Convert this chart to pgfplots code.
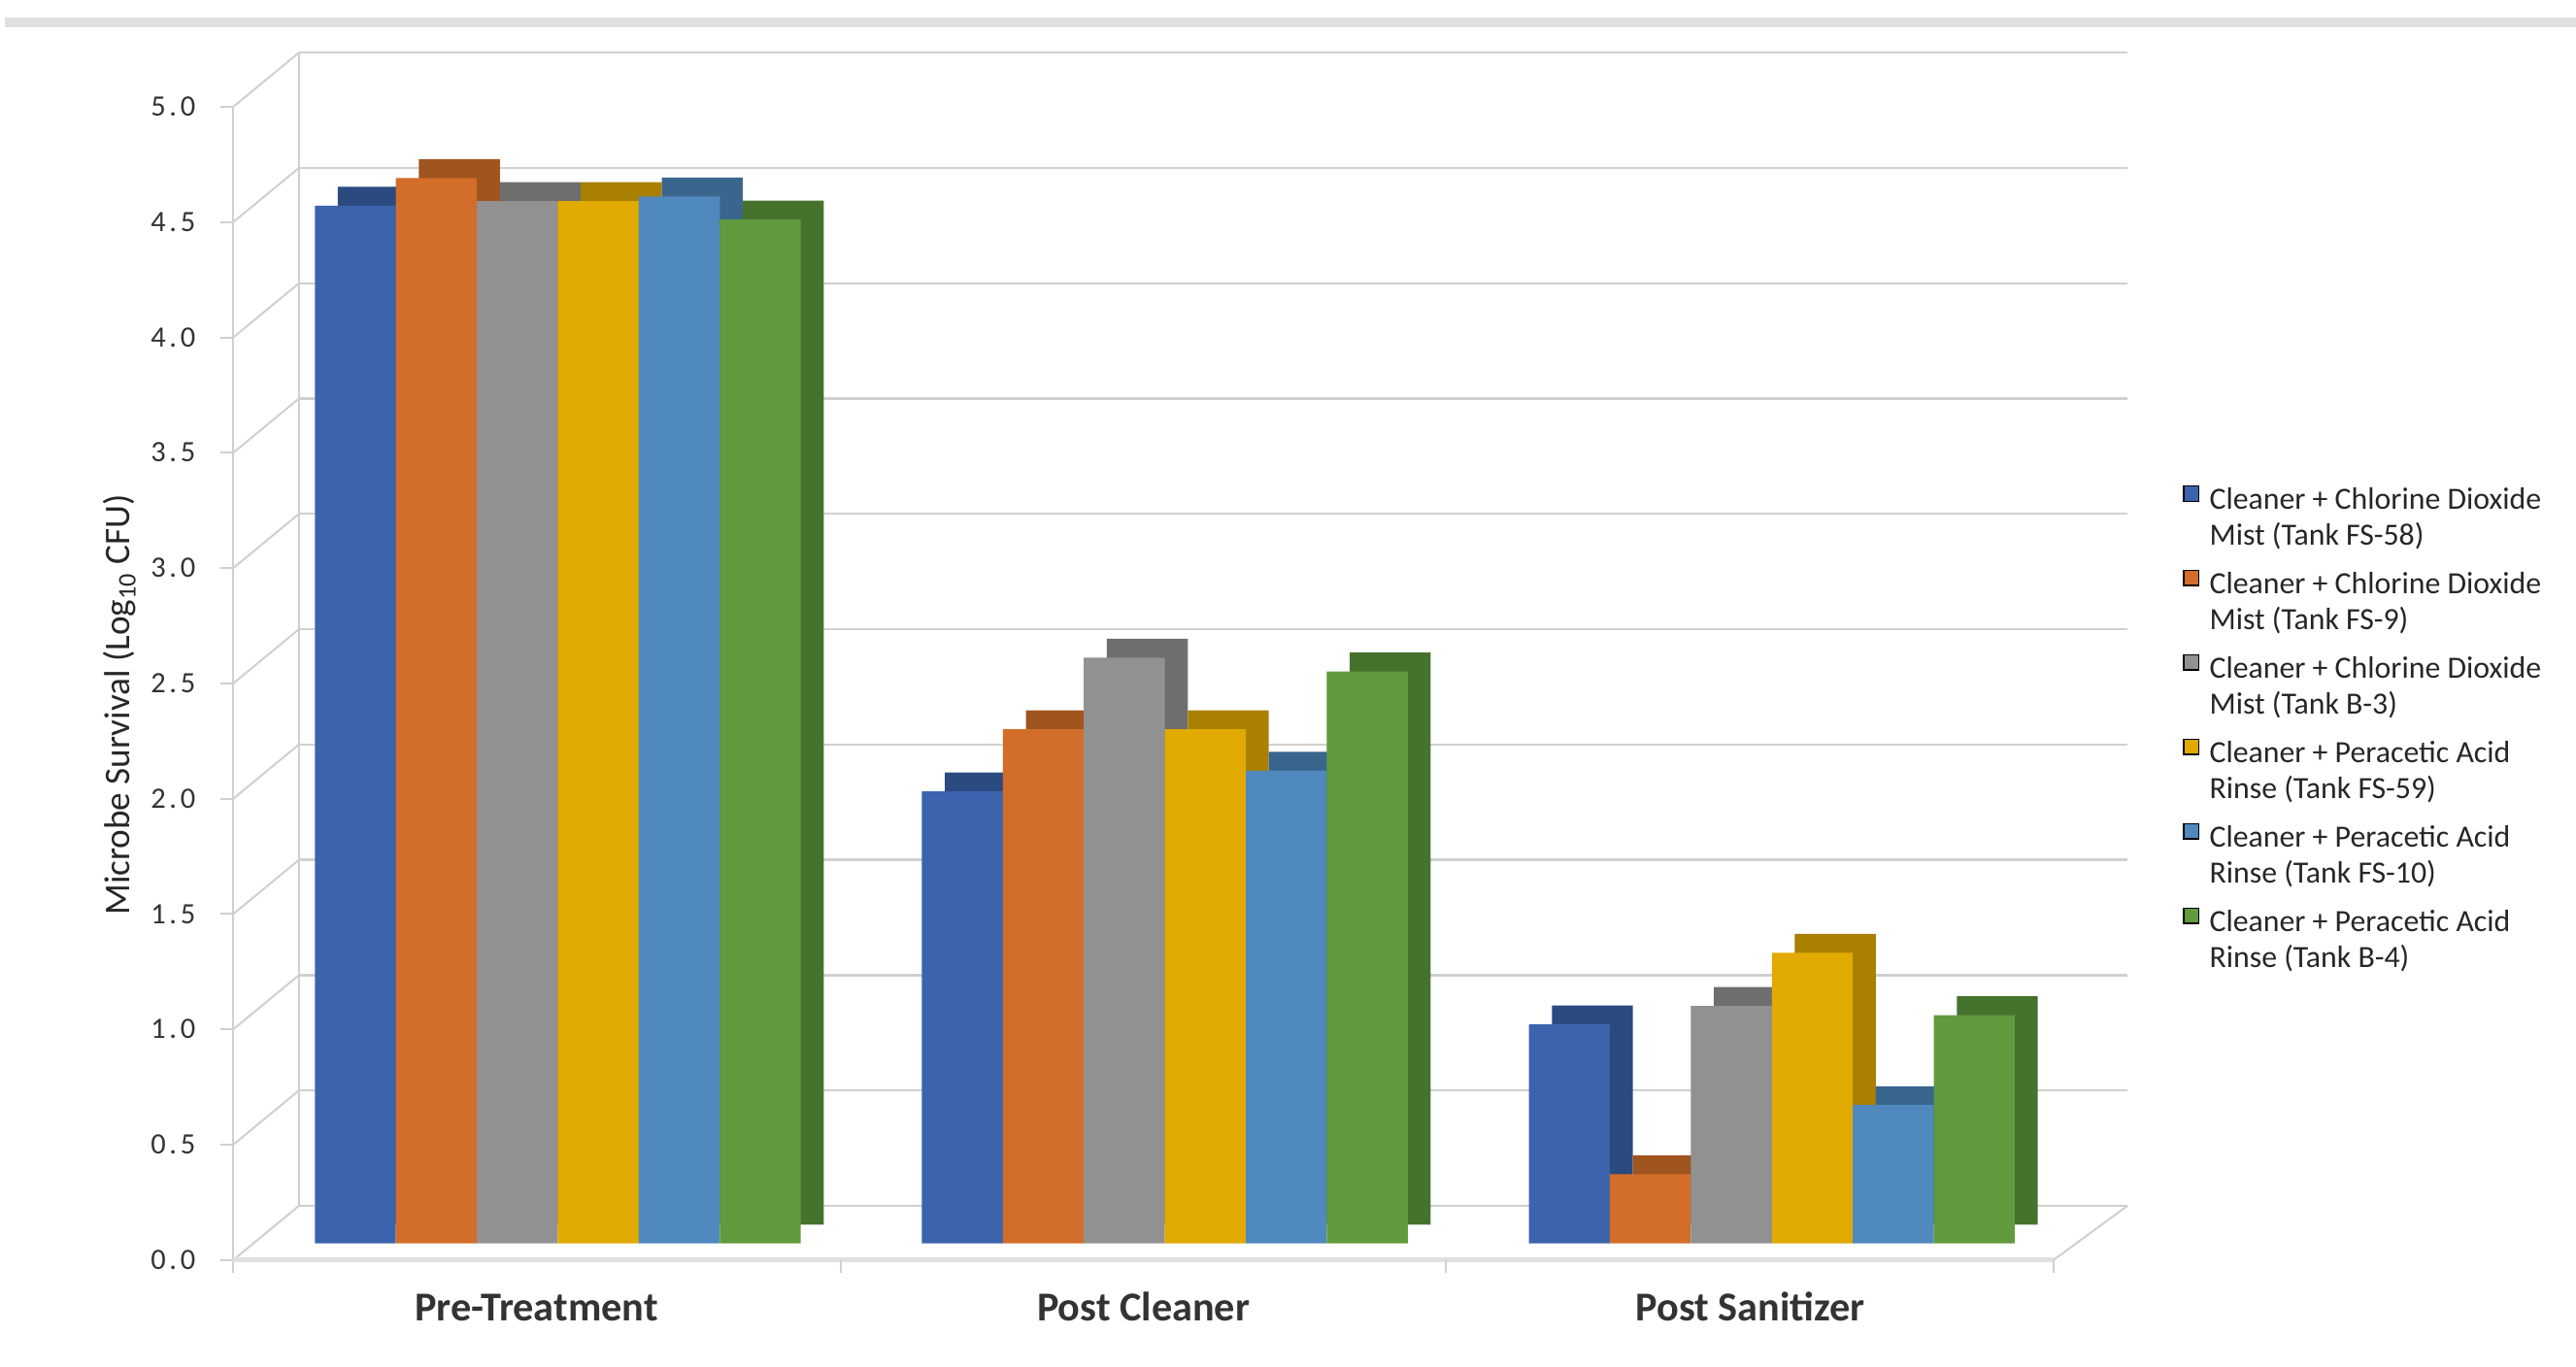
\documentclass[border=0pt]{standalone}
\usepackage{pgfplots}
\pgfplotsset{compat=1.18}
\usepackage{fontspec}
\setmainfont{Carlito}
\newfontfamily\tickfont[LetterSpace=12]{Carlito}
\definecolor{cA}{HTML}{3B64AD}\definecolor{cAd}{HTML}{2A4A80}
\definecolor{cB}{HTML}{D26D2A}\definecolor{cBd}{HTML}{A0541E}
\definecolor{cC}{HTML}{919191}\definecolor{cCd}{HTML}{6E6E6E}
\definecolor{cD}{HTML}{E0AA00}\definecolor{cDd}{HTML}{A98000}
\definecolor{cE}{HTML}{4F89BD}\definecolor{cEd}{HTML}{3A668E}
\definecolor{cF}{HTML}{629A3E}\definecolor{cFd}{HTML}{45722D}
\definecolor{gridc}{HTML}{D0D0D0}
\definecolor{bandc}{HTML}{E0E0E0}
\pgfplotsset{
  sq/.style={legend image code/.code={\fill[##1] (0pt,-0.6pt) rectangle (4.6pt,4pt);}},
  bar3d/.style 2 args={ybar, forget plot, draw=none, fill=#1, bar width=0.1334, bar shift=#2}
}
\tikzset{
  bk/.style={gridc, line width=0.7pt},
  dg/.style={gridc, line width=0.6pt}
}
\begin{document}
\begin{tikzpicture}
\fill[bandc] (1.5pt,407.75pt) rectangle (784pt,410.6pt);
% chart frame: back wall, floor and front axis (decoration)
\foreach \v in {0,0.5,1,1.5,2,2.5,3,3.5,4,4.5,5}{
  \pgfmathsetmacro{\yb}{49+70.2*\v}
  \pgfmathsetmacro{\yf}{32.5+70.2*\v}
  \draw[bk] (91pt,\yb pt) -- (647.5pt,\yb pt);
  \draw[dg] (71pt,\yf pt) -- (91pt,\yb pt);
  \draw[dg] (71pt,\yf pt) -- (67pt,\yf pt);
}
\draw[dg] (91pt,49pt) -- (91pt,400pt);
\draw[bk] (71pt,28.5pt) -- (71pt,383.5pt);
\draw[bandc, line width=1.4pt] (71pt,32.5pt) -- (625pt,32.5pt);
\draw[dg] (625pt,32.5pt) -- (647.5pt,49pt);
\draw[dg] (256pt,32.5pt) -- ++(0,-4pt);
\draw[dg] (440pt,32.5pt) -- ++(0,-4pt);
\draw[dg] (625pt,32.5pt) -- ++(0,-4pt);
\begin{axis}[
  at={(70pt,29.1pt)}, anchor=south west,
  scale only axis, width=577.5pt, height=373.46pt,
  xmin=-0.54, xmax=2.586, ymin=-0.12, ymax=5.2,
  clip=false,
  axis x line*=bottom, axis y line*=left,
  axis line style={draw=none}, tick style={draw=none},
  xtick={0,1,2},
  xticklabels={Pre-Treatment, Post Cleaner, Post Sanitizer},
  xticklabel style={anchor=base, yshift=-15pt, xshift=-6.5pt, font=\fontsize{12.5}{14}\selectfont\bfseries, text=black!80},
  ytick={0,0.5,1,1.5,2,2.5,3,3.5,4,4.5,5},
  yticklabel style={anchor=east, xshift=-7pt, yshift=-5pt, font=\fontsize{9}{10}\selectfont\tickfont, text=black!80,
    /pgf/number format/.cd, fixed, fixed zerofill, precision=1, assume math mode=true},
  ylabel={Microbe Survival (Log\textsubscript{10} CFU)},
  ylabel style={at={(axis description cs:-0.058,0.4616)}, anchor=center, font=\fontsize{11}{13}\selectfont, text=black!85},
  legend cell align=left,
  legend style={at={(axis description cs:1.029,0.642)}, anchor=north west, draw=none, fill=none,
    inner sep=0pt, row sep=16.5pt, column sep=3pt, nodes={inner sep=0pt},
    font=\fontsize{9.4}{11}\selectfont, text=black!85},
]
\addplot[bar3d={cA}{-0.3335}, preaction={fill=cAd, transform canvas={shift={(7pt,5.75pt)}}}]
  coordinates {(0,4.50) (1,1.96) (2,0.95)};
\addplot[bar3d={cB}{-0.2001}, preaction={fill=cBd, transform canvas={shift={(7pt,5.75pt)}}}]
  coordinates {(0,4.62) (1,2.23) (2,0.30)};
\addplot[bar3d={cC}{-0.0667}, preaction={fill=cCd, transform canvas={shift={(7pt,5.75pt)}}}]
  coordinates {(0,4.52) (1,2.54) (2,1.03)};
\addplot[bar3d={cD}{0.0667}, preaction={fill=cDd, transform canvas={shift={(7pt,5.75pt)}}}]
  coordinates {(0,4.52) (1,2.23) (2,1.26)};
\addplot[bar3d={cE}{0.2001}, preaction={fill=cEd, transform canvas={shift={(7pt,5.75pt)}}}]
  coordinates {(0,4.54) (1,2.05) (2,0.60)};
\addplot[bar3d={cF}{0.3335}, preaction={fill=cFd, transform canvas={shift={(7pt,5.75pt)}}}]
  coordinates {(0,4.44) (1,2.48) (2,0.99)};

\addlegendimage{sq, fill=cA}
\addlegendentry{\begin{tabular}[t]{@{}l@{}}Cleaner + Chlorine Dioxide\\Mist (Tank FS-58)\end{tabular}}
\addlegendimage{sq, fill=cB}
\addlegendentry{\begin{tabular}[t]{@{}l@{}}Cleaner + Chlorine Dioxide\\Mist (Tank FS-9)\end{tabular}}
\addlegendimage{sq, fill=cC}
\addlegendentry{\begin{tabular}[t]{@{}l@{}}Cleaner + Chlorine Dioxide\\Mist (Tank B-3)\end{tabular}}
\addlegendimage{sq, fill=cD}
\addlegendentry{\begin{tabular}[t]{@{}l@{}}Cleaner + Peracetic Acid\\Rinse (Tank FS-59)\end{tabular}}
\addlegendimage{sq, fill=cE}
\addlegendentry{\begin{tabular}[t]{@{}l@{}}Cleaner + Peracetic Acid\\Rinse (Tank FS-10)\end{tabular}}
\addlegendimage{sq, fill=cF}
\addlegendentry{\begin{tabular}[t]{@{}l@{}}Cleaner + Peracetic Acid\\Rinse (Tank B-4)\end{tabular}}
\end{axis}
\pgfresetboundingbox
\useasboundingbox (0,0) rectangle (784pt,416pt);
\end{tikzpicture}
\end{document}
